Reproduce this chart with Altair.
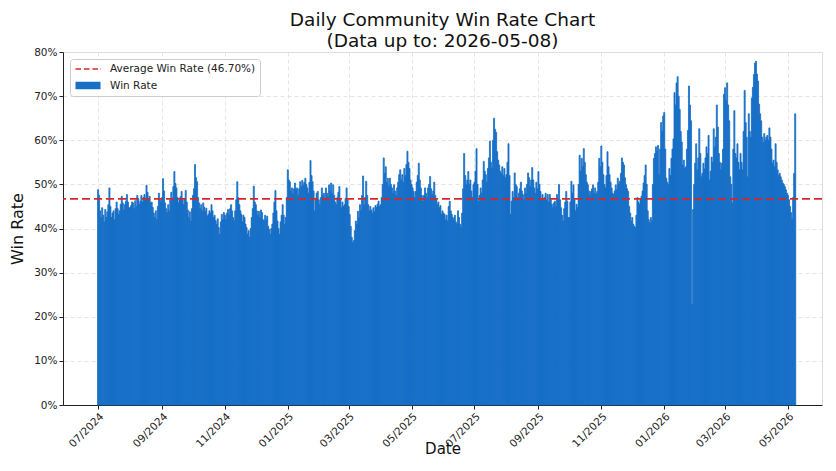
import calendar
import altair as alt
import pandas as pd

# ---------------- data ----------------
START_DATE = "2024-07-01"
LAST_DATE = "2026-05-08"
AVG_WIN_RATE = 46.70

WR_2024_07 = [48.8, 47.5, 44.0, 42.5, 44.7, 43.0, 41.5, 44.3, 42.5, 43.8, 45.4, 49.2, 45.0, 42.5, 43.5, 44.0, 42.0, 44.5, 46.0, 44.5, 43.2, 44.0, 45.5, 47.3, 45.8, 44.2, 45.4, 46.2, 47.7, 46.0, 44.7]
WR_2024_08 = [44.7, 45.2, 46.0, 45.8, 44.5, 46.3, 45.0, 47.5, 46.8, 45.5, 46.2, 47.5, 46.0, 47.0, 47.7, 46.5, 49.8, 48.2, 46.5, 47.3, 45.8, 46.0, 44.8, 43.5, 42.5, 44.0, 42.0, 45.0, 48.0, 46.5, 46.0]
WR_2024_09 = [47.0, 51.3, 48.5, 45.8, 44.5, 43.6, 45.4, 44.0, 46.5, 48.2, 46.8, 49.5, 52.9, 50.2, 49.2, 47.0, 45.8, 46.5, 47.2, 48.4, 46.5, 45.4, 46.8, 48.6, 46.0, 44.2, 42.5, 43.8, 41.7, 44.5]
WR_2024_10 = [47.5, 49.0, 54.5, 51.5, 50.6, 47.0, 45.8, 44.5, 45.4, 44.0, 45.8, 44.8, 43.9, 44.6, 42.8, 43.2, 44.0, 43.5, 45.4, 44.0, 42.5, 43.0, 41.8, 41.0, 42.2, 40.2, 38.7, 41.5, 43.2, 42.0, 43.6]
WR_2024_11 = [43.0, 42.0, 43.5, 44.3, 43.0, 44.5, 45.4, 44.0, 42.5, 41.8, 44.0, 46.5, 50.6, 47.0, 45.4, 44.0, 43.2, 41.5, 43.0, 42.5, 41.0, 40.2, 38.7, 39.5, 38.0, 40.0, 42.5, 44.5, 49.6, 46.0]
WR_2024_12 = [45.4, 44.0, 43.0, 43.9, 42.5, 44.2, 43.6, 42.0, 41.7, 43.0, 42.0, 42.8, 40.5, 39.8, 38.7, 40.0, 41.0, 43.5, 46.0, 48.6, 44.0, 41.7, 40.0, 38.7, 41.5, 43.0, 45.4, 43.0, 41.0, 42.5, 47.0]
WR_2025_01 = [53.3, 51.0, 50.6, 48.5, 49.2, 47.8, 49.0, 50.3, 48.8, 49.2, 47.5, 49.0, 50.6, 49.5, 50.9, 49.8, 50.5, 51.4, 50.0, 49.2, 48.0, 50.5, 55.4, 52.0, 50.6, 48.5, 44.0, 46.5, 48.0, 48.4, 46.5]
WR_2025_02 = [45.4, 47.0, 49.2, 47.5, 48.0, 46.8, 49.2, 48.0, 47.2, 49.9, 48.5, 50.3, 48.0, 49.9, 47.5, 46.0, 45.4, 47.0, 48.2, 49.5, 46.5, 44.7, 46.0, 45.0, 45.4, 46.8, 49.2, 46.5]
WR_2025_03 = [45.0, 43.2, 40.5, 38.0, 36.8, 37.3, 39.5, 41.7, 41.0, 43.9, 42.5, 45.4, 44.0, 47.5, 51.9, 45.4, 47.0, 50.7, 47.5, 45.4, 44.0, 45.0, 44.2, 43.5, 44.7, 43.8, 45.2, 44.7, 45.5, 46.2, 45.0]
WR_2025_04 = [45.4, 47.0, 50.0, 56.0, 52.5, 54.0, 50.5, 51.4, 49.5, 51.4, 50.0, 49.2, 48.0, 49.9, 48.5, 47.5, 49.2, 50.5, 52.2, 53.3, 51.0, 52.2, 50.5, 53.6, 52.0, 54.5, 57.5, 55.0, 53.6, 51.0]
WR_2025_05 = [50.0, 49.2, 48.4, 47.0, 48.4, 50.5, 52.0, 54.8, 51.0, 49.2, 47.5, 46.2, 47.5, 49.2, 48.0, 47.0, 49.2, 50.0, 51.8, 49.0, 47.7, 48.5, 50.5, 47.5, 46.5, 45.4, 46.0, 44.7, 45.2, 43.2, 44.0]
WR_2025_06 = [43.5, 43.2, 42.0, 43.0, 41.7, 45.0, 46.2, 44.0, 43.2, 42.5, 42.1, 43.0, 41.5, 41.0, 44.0, 42.5, 41.0, 40.2, 43.5, 49.0, 57.0, 52.0, 49.9, 51.0, 52.9, 50.0, 51.0, 48.5, 47.0, 49.9]
WR_2025_07 = [50.5, 53.0, 58.1, 50.0, 46.2, 47.5, 49.2, 48.0, 51.0, 55.2, 53.0, 52.2, 50.5, 53.6, 56.0, 59.8, 55.0, 53.6, 60.0, 65.0, 62.5, 61.8, 57.4, 55.5, 54.4, 53.0, 52.5, 54.0, 52.0, 53.6, 51.5]
WR_2025_08 = [52.2, 55.0, 59.2, 52.0, 43.2, 46.2, 48.4, 47.0, 52.6, 50.0, 49.5, 47.0, 48.0, 49.0, 50.5, 48.5, 47.7, 46.5, 49.2, 48.0, 50.0, 52.6, 51.5, 49.5, 51.0, 53.8, 51.0, 49.2, 48.0, 50.5, 49.0]
WR_2025_09 = [52.9, 50.0, 48.4, 46.8, 47.7, 46.5, 47.0, 48.0, 46.5, 47.7, 46.0, 47.7, 46.5, 45.5, 44.7, 45.8, 46.2, 45.0, 47.7, 46.5, 50.0, 46.5, 44.7, 43.0, 41.7, 44.5, 46.0, 48.4, 46.2, 42.5]
WR_2025_10 = [42.5, 46.0, 50.7, 48.0, 49.9, 46.5, 44.0, 45.5, 44.7, 50.0, 56.6, 53.0, 55.9, 54.0, 58.1, 55.0, 52.2, 50.5, 49.9, 48.5, 47.5, 48.4, 49.0, 49.9, 48.0, 49.2, 47.8, 48.4, 50.5, 55.9, 54.0]
WR_2025_11 = [58.7, 55.0, 52.2, 50.0, 49.2, 52.0, 57.4, 54.0, 52.2, 50.5, 49.2, 48.0, 47.7, 48.5, 49.9, 48.8, 51.4, 50.0, 50.7, 52.5, 56.0, 55.0, 54.4, 51.5, 49.9, 49.0, 48.4, 45.0, 43.5, 41.7]
WR_2025_12 = [42.5, 41.0, 40.5, 40.2, 43.0, 47.0, 46.0, 45.5, 46.5, 47.3, 48.5, 50.3, 52.0, 54.4, 50.0, 44.0, 42.0, 41.3, 42.5, 41.7, 50.0, 55.9, 57.0, 58.5, 57.5, 58.8, 52.2, 58.0, 64.0, 62.0, 65.5]
WR_2026_01 = [66.3, 58.0, 51.4, 50.5, 49.9, 53.6, 52.0, 55.9, 58.0, 60.3, 70.8, 68.0, 73.0, 74.4, 70.0, 67.0, 62.0, 59.6, 54.4, 55.5, 53.6, 54.0, 58.0, 62.2, 72.3, 68.0, 64.4, 22.8, 44.3, 50.0, 54.8]
WR_2026_02 = [59.2, 53.3, 56.0, 62.6, 57.0, 51.7, 52.5, 54.8, 53.5, 56.0, 58.5, 57.0, 61.1, 51.0, 53.0, 56.2, 55.0, 62.6, 58.5, 60.7, 68.0, 63.0, 57.0, 55.0, 53.3, 54.8, 58.0, 70.4]
WR_2026_03 = [71.9, 69.0, 73.0, 68.0, 64.4, 51.7, 50.0, 45.8, 58.0, 66.7, 57.0, 56.0, 59.2, 55.0, 53.3, 57.0, 55.0, 53.3, 62.0, 71.3, 64.0, 60.7, 51.7, 66.0, 62.0, 60.7, 69.6, 72.0, 74.9, 77.5, 77.9]
WR_2026_04 = [75.0, 73.4, 68.2, 66.0, 64.4, 60.7, 59.5, 61.5, 60.0, 60.7, 61.1, 60.0, 62.8, 60.7, 58.0, 54.8, 55.5, 54.0, 59.2, 55.0, 53.3, 52.0, 52.5, 51.7, 51.0, 50.3, 50.0, 49.5, 48.8, 48.0]
WR_2026_05 = [47.5, 46.5, 45.0, 43.6, 42.1, 47.0, 52.5, 66.0]

MONTH_BLOCKS = [
    ("2024-07", WR_2024_07), ("2024-08", WR_2024_08), ("2024-09", WR_2024_09),
    ("2024-10", WR_2024_10), ("2024-11", WR_2024_11), ("2024-12", WR_2024_12),
    ("2025-01", WR_2025_01), ("2025-02", WR_2025_02), ("2025-03", WR_2025_03),
    ("2025-04", WR_2025_04), ("2025-05", WR_2025_05), ("2025-06", WR_2025_06),
    ("2025-07", WR_2025_07), ("2025-08", WR_2025_08), ("2025-09", WR_2025_09),
    ("2025-10", WR_2025_10), ("2025-11", WR_2025_11), ("2025-12", WR_2025_12),
    ("2026-01", WR_2026_01), ("2026-02", WR_2026_02), ("2026-03", WR_2026_03),
    ("2026-04", WR_2026_04), ("2026-05", WR_2026_05),
]

TICK_MONTHS = ["2024-07", "2024-09", "2024-11", "2025-01", "2025-03", "2025-05",
               "2025-07", "2025-09", "2025-11", "2026-01", "2026-03", "2026-05"]
Y_TICKS = [0, 10, 20, 30, 40, 50, 60, 70, 80]

TITLE_LINES = ["Daily Community Win Rate Chart", f"(Data up to: {LAST_DATE})"]
SERIES = [f"Average Win Rate ({AVG_WIN_RATE:.2f}%)", "Win Rate"]

# ---------------- styling ----------------
FONT = "DejaVu Sans"
BLUE = "#176fc6"
RED = "#d62728"
# legend glyphs (unit paths): dashed line, and a filled bar patch drawn with stacked strokes
DASH_GLYPH = "M-2.5,0H-1.4M-0.8,0H0.3M0.9,0H2.0M2.4,0H2.5"
PATCH_GLYPH = ("M-2.5,-0.6H2.5M-2.5,-0.35H2.5M-2.5,-0.1H2.5M-2.5,0.15H2.5"
               "M-2.5,0.4H2.5M-2.5,0.6H2.5")

# ---------------- build table ----------------
frames = []
for i, (ym, block) in enumerate(MONTH_BLOCKS):
    y, m = int(ym[:4]), int(ym[5:])
    if i < len(MONTH_BLOCKS) - 1:
        assert len(block) == calendar.monthrange(y, m)[1], (ym, len(block))
    d = pd.date_range(f"{ym}-01", periods=len(block), freq="D")
    frames.append(pd.DataFrame({"date": d, "win_rate": block}))
df = pd.concat(frames, ignore_index=True)
assert df["date"].iloc[0] == pd.Timestamp(START_DATE)
assert df["date"].iloc[-1] == pd.Timestamp(LAST_DATE)
df["start"] = df["date"] - pd.Timedelta(hours=12)
df["end"] = df["date"] + pd.Timedelta(hours=12)

avg_df = pd.DataFrame({"avg": [AVG_WIN_RATE]})
legend_df = pd.DataFrame({"series": SERIES})

tick_values = [alt.DateTime(year=int(s[:4]), month=int(s[5:]), date=1) for s in TICK_MONTHS]
x_scale = alt.Scale(domain=[alt.DateTime(year=2024, month=5, date=28),
                            alt.DateTime(year=2026, month=6, date=3)])
y_scale = alt.Scale(domain=[0, 80], nice=False)

x_axis = alt.Axis(
    values=tick_values, format="%m/%Y", labelAngle=-45, labelAlign="right",
    labelBaseline="top", labelOverlap=False, labelFlush=False,
    labelFont=FONT, labelFontSize=10.5, labelColor="#222222", labelPadding=2,
    tickSize=4, tickColor="#222222", domainColor="#222222",
    grid=True, gridColor="#dddddd", gridDash=[4, 3], gridWidth=0.8,
    title="Date", titleFont=FONT, titleFontSize=15, titleFontWeight="normal",
    titleColor="#111111", titlePadding=-8,
)
y_axis = alt.Axis(
    values=Y_TICKS, labelExpr="datum.value + '%'",
    labelFont=FONT, labelFontSize=10.5, labelColor="#222222", labelPadding=2,
    tickSize=4, tickColor="#222222", domainColor="#222222",
    grid=True, gridColor="#dddddd", gridDash=[4, 3], gridWidth=0.8,
    title="Win Rate", titleFont=FONT, titleFontSize=16, titleFontWeight="normal",
    titleColor="#111111", titlePadding=8,
)

bars = alt.Chart(df).mark_bar(color=BLUE, stroke=BLUE, strokeWidth=0.8).encode(
    x=alt.X("start:T", scale=x_scale, axis=x_axis),
    x2="end:T",
    y=alt.Y("win_rate:Q", scale=y_scale, axis=y_axis),
    y2=alt.datum(0),
)

avg_rule = alt.Chart(avg_df).mark_rule(color=RED, strokeDash=[8, 4], strokeWidth=1.7).encode(
    y=alt.Y("avg:Q", scale=y_scale),
)

legend = alt.Legend(
    title=None, orient="none", legendX=7, legendY=7,
    fillColor="white", strokeColor="#cccccc", cornerRadius=3, padding=4,
    labelFont=FONT, labelFontSize=10.5, labelColor="#222222",
    symbolSize=100, symbolStrokeWidth=1.7,
    symbolOffset=8, labelOffset=16, rowPadding=3.5,
)
legend_layer = alt.Chart(legend_df).mark_point(filled=True, opacity=0).encode(
    stroke=alt.Stroke("series:N", scale=alt.Scale(domain=SERIES, range=[RED, BLUE]), legend=legend),
    shape=alt.Shape("series:N", scale=alt.Scale(domain=SERIES, range=[DASH_GLYPH, PATCH_GLYPH]), legend=legend),
)

chart = alt.layer(bars, avg_rule, legend_layer).properties(
    width=759,
    height=353,
    padding={"left": 55, "top": 44, "right": 6, "bottom": 54},
    autosize=alt.AutoSizeParams(type="none"),
    title=alt.Title(text=TITLE_LINES, font=FONT, fontSize=18.5, fontWeight="normal",
                    color="#111111", anchor="middle", lineHeight=21.5, offset=-3.5,
                    frame="group"),
).configure_view(stroke="#666666", strokeWidth=1).configure(background="white")

chart.save("out.html", embed_options={"renderer": "svg", "actions": False})
